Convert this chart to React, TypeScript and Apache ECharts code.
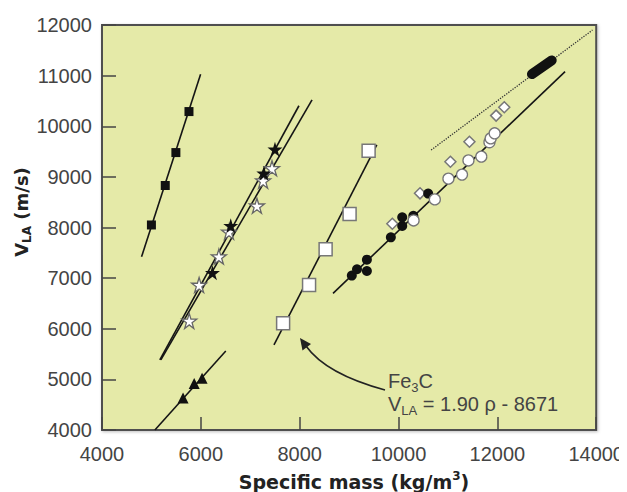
import React, { useEffect, useRef } from "react";
import * as echarts from "echarts";

// ---- data ----
const xTicks = [4000, 14000, 2000];
const yTicks = [4000, 12000, 1000];

const squaresFilled = [[5000, 8050], [5280, 8830], [5495, 9480], [5760, 10290]];
const squaresFilledFit = [[4800, 7420], [5995, 11025]];

const triangles = [[5640, 4630], [5865, 4920], [6025, 5020]];
const trianglesFit = [[5070, 4000], [6505, 5560]];

const starsFilled = [[6235, 7105], [6605, 8035], [7275, 9070], [7500, 9545]];
const starsFilledFit = [[5170, 5385], [7985, 10405]];

const starsOpen = [[5765, 6155], [5965, 6865], [6365, 7425], [6570, 7915], [7135, 8430], [7260, 8925], [7440, 9170]];
const starsOpenFit = [[5190, 5385], [8250, 10520]];

const squaresOpen = [[7665, 6110], [8190, 6865], [8525, 7570], [9010, 8265], [9395, 9515]];
const squaresOpenFit = [[7480, 5680], [9560, 9630]];

const circlesFilled = [[9055, 7050], [9160, 7175], [9360, 7140], [9360, 7365], [9845, 7805], [10075, 8030], [10075, 8200], [10300, 8230], [10600, 8670]];
const circlesOpen = [[10305, 8140], [10735, 8555], [11010, 8965], [11285, 9045], [11415, 9325], [11675, 9400], [11840, 9685], [11865, 9760], [11945, 9860]];
const diamonds = [[9875, 8075], [10435, 8675], [11050, 9300], [11435, 9695], [11975, 10210], [12140, 10375]];
const circlesFit = [[8675, 6700], [13370, 11080]];

const dottedFit = [[10660, 9530], [13925, 11900]];
const thickSegment = [[12700, 11030], [13100, 11300]];

const STAR = "path://M50,0 L61,35 L98,35 L68,57 L79,91 L50,70 L21,91 L32,57 L2,35 L39,35 Z";

// page offset of the chart div (body margin)
const O = 8;

export default function App() {
  const ref = useRef<HTMLDivElement>(null);
  useEffect(() => {
    if (!ref.current) return;
    const chart = echarts.init(ref.current, null, { renderer: "svg" });
    const fitLine = (data: number[][], extra: any = {}) => ({
      type: "line",
      data,
      showSymbol: false,
      symbol: "none",
      silent: true,
      z: 1,
      lineStyle: { color: "#151515", width: 1.6, ...extra },
    });
    const sc = (data: number[][], symbol: string, size: number, color: string, border: string, bw: number, z = 3) => ({
      type: "scatter",
      data,
      symbol,
      symbolSize: size,
      z,
      itemStyle: { color, borderColor: border, borderWidth: bw, opacity: 1 },
    });
    const labelFont = "Liberation Sans";
    chart.setOption({
      animation: false,
      grid: {
        left: 102 - O,
        right: 627 - 597,
        top: 25 - O,
        bottom: 492 - 430,
        show: true,
        backgroundColor: "#e5eaa8",
        borderColor: "#505050",
        borderWidth: 2,
        shadowColor: "rgba(0,0,0,0.25)",
        shadowBlur: 3,
        shadowOffsetX: 1,
        shadowOffsetY: 1,
      },
      xAxis: {
        type: "value",
        min: xTicks[0],
        max: xTicks[1],
        interval: xTicks[2],
        axisLine: { show: false },
        axisTick: { inside: true, length: 13, lineStyle: { color: "#444", width: 1.5 } },
        splitLine: { show: false },
        axisLabel: { margin: 14, fontSize: 20, color: "#444", fontFamily: labelFont, formatter: (v: number) => String(v) },
      },
      yAxis: {
        type: "value",
        min: yTicks[0],
        max: yTicks[1],
        interval: yTicks[2],
        axisLine: { show: false },
        axisTick: { inside: true, length: 14, lineStyle: { color: "#444", width: 1.5 } },
        splitLine: { show: false },
        axisLabel: { margin: 10, fontSize: 20, color: "#444", fontFamily: labelFont, formatter: (v: number) => String(v) },
      },
      series: [
        fitLine(squaresFilledFit),
        fitLine(trianglesFit),
        fitLine(starsFilledFit),
        fitLine(starsOpenFit),
        fitLine(squaresOpenFit),
        fitLine(circlesFit),
        fitLine(dottedFit, { type: "dotted", width: 1.3, color: "#333" }),
        {
          type: "line",
          data: thickSegment,
          symbol: "none",
          silent: true,
          z: 2,
          lineStyle: { color: "#111", width: 10, cap: "round" },
        },
        sc(squaresFilled, "rect", 9, "#111", "#111", 0),
        sc(triangles, "triangle", 11, "#111", "#111", 0),
        sc(starsOpen, STAR, 15, "#ffffff", "#666", 1.3),
        sc(starsFilled, STAR, 15, "#111", "#111", 0, 4),
        sc(squaresOpen, "rect", 13, "#ffffff", "#777", 1.5),
        sc(diamonds, "diamond", 11, "#ffffff", "#777", 1.5),
        sc(circlesFilled, "circle", 10, "#111", "#111", 0, 4),
        sc(circlesOpen, "circle", 11, "#ffffff", "#777", 1.3, 5),
      ],
      graphic: [
        {
          type: "text",
          x: 21 - O,
          y: 212 - O,
          rotation: Math.PI / 2,
          style: {
            text: "{m|V}{s|LA}{m| (m/s)}",
            align: "center",
            verticalAlign: "middle",
            fill: "#222",
            rich: {
              m: { fontSize: 18, fontWeight: "bold", fontFamily: "DejaVu Sans", fill: "#222" },
              s: { fontSize: 12, fontWeight: "bold", fontFamily: "DejaVu Sans", fill: "#222", padding: [12, 0, 0, 0] },
            },
          },
        },
        {
          type: "text",
          x: 354 - O,
          y: 482 - O,
          style: {
            text: "{m|Specific mass (kg/m}{s|3}{m|)}",
            align: "center",
            verticalAlign: "middle",
            fill: "#222",
            rich: {
              m: { fontSize: 19, fontWeight: "bold", fontFamily: "DejaVu Sans", fill: "#222" },
              s: { fontSize: 12, fontWeight: "bold", fontFamily: "DejaVu Sans", fill: "#222", padding: [0, 0, 12, 0] },
            },
          },
        },
        {
          type: "text",
          x: 388 - O,
          y: 381 - O,
          style: {
            text: "{m|Fe}{s|3}{m|C}",
            align: "left",
            verticalAlign: "middle",
            rich: {
              m: { fontSize: 20, fontFamily: labelFont, fill: "#444" },
              s: { fontSize: 13, fontFamily: labelFont, fill: "#444", padding: [12, 0, 0, 0] },
            },
          },
        },
        {
          type: "text",
          x: 388 - O,
          y: 404 - O,
          style: {
            text: "{m|V}{s|LA}{m| = 1.90 ρ - 8671}",
            align: "left",
            verticalAlign: "middle",
            rich: {
              m: { fontSize: 20, fontFamily: labelFont, fill: "#444" },
              s: { fontSize: 13, fontFamily: labelFont, fill: "#444", padding: [12, 0, 0, 0] },
            },
          },
        },
        {
          type: "bezierCurve",
          shape: { x1: 385 - O, y1: 390 - O, x2: 306 - O, y2: 346 - O, cpx1: 326 - O, cpy1: 374 - O },
          style: { stroke: "#222", lineWidth: 1.6, fill: "none" },
          z: 10,
        },
        {
          type: "polygon",
          shape: { points: [[300 - O, 338 - O], [311 - O, 344 - O], [302.5 - O, 350.5 - O]] },
          style: { fill: "#222" },
          z: 10,
        },
      ],
    });
    return () => chart.dispose();
  }, []);
  return <div ref={ref} style={{ width: 627 - O, height: 492 - O }} />;
}
